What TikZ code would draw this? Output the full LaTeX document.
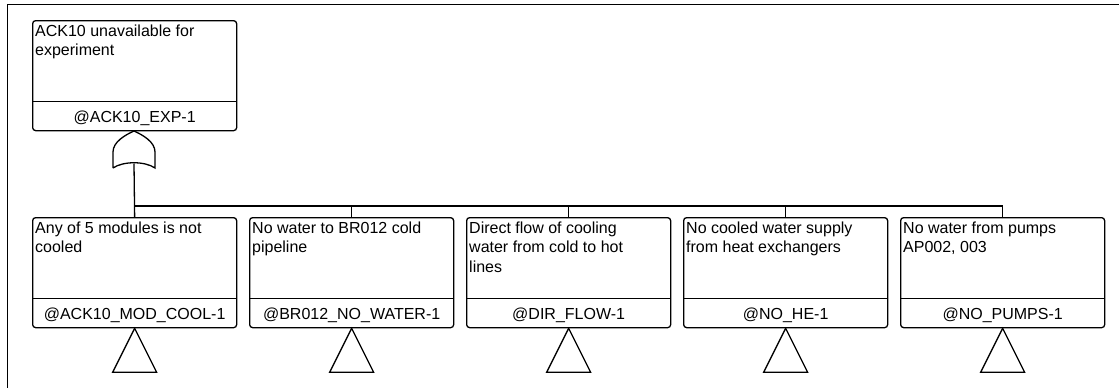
\documentclass[tikz,border=0pt]{standalone}
\usepackage{fontspec}
\setmainfont{Liberation Sans}
\tikzset{
  evbox/.style={draw, line width=1.3bp, rounded corners=3bp, minimum width=204bp, minimum height=110bp, inner sep=0pt, anchor=north west},
  evtext/.style={anchor=north west, inner sep=0pt, align=left, font=\fontsize{16bp}{19.5bp}\selectfont},
  evlabel/.style={anchor=base, inner sep=0pt, font=\fontsize{16bp}{19.5bp}\selectfont},
  conn/.style={line width=1.3bp},
}
\newcommand\ftbox[5]{%
  \node[evbox] (#1) at (#2,#3) {};
  \draw[conn] ([yshift=30bp]#1.south west) -- ([yshift=30bp]#1.south east);
  \node[evtext] (#1t) at ([xshift=3bp,yshift=-4.6bp]#1.north west) {#4};
  \node[evlabel] (#1l) at ([yshift=9bp]#1.south) {#5};
}
\begin{document}
\begin{tikzpicture}[x=1bp,y=-1bp]
\useasboundingbox (0,0) rectangle (1119,387);
\clip (0,0) rectangle (1119,387);
\draw[line width=1bp] (7,400) -- (7,4) -- (1130,4);
% top event
\ftbox{top}{32}{20}{ACK10 unavailable for\\experiment}{@ACK10\_EXP-1}
% OR gate
\draw[conn] (113,168) -- (113,152) .. controls (113,142) and (125,135) .. (134,131)
  .. controls (143,135) and (155,142) .. (155,152) -- (155,168)
  .. controls (145,161) and (123,161) .. (113,168);
\coordinate (gin) at (134,163.5);
\coordinate (bus) at (0,206);
% children
\ftbox{b1}{32}{217}{Any of 5 modules is not\\cooled}{@ACK10\_MOD\_COOL-1}
\ftbox{b2}{249}{217}{No water to BR012 cold\\pipeline}{@BR012\_NO\_WATER-1}
\ftbox{b3}{466}{217}{Direct flow of cooling\\water from cold to hot\\lines}{@DIR\_FLOW-1}
\ftbox{b4}{683}{217}{No cooled water supply\\from heat exchangers}{@NO\_HE-1}
\ftbox{b5}{900}{217}{No water from pumps\\AP002, 003}{@NO\_PUMPS-1}
% connectors
\draw[conn] (gin) -- (b1.north);
\draw[conn] (b1.north |- bus) -- (b5.north |- bus);
\foreach \b in {b2,b3,b4,b5} \draw[conn] (\b.north |- bus) -- (\b.north);
% transfer triangles
\foreach \b in {b1,b2,b3,b4,b5}
  \draw[conn, line join=miter] (\b.south) -- ++(-22,44) -- ++(44,0) -- cycle;
\end{tikzpicture}
\end{document}
